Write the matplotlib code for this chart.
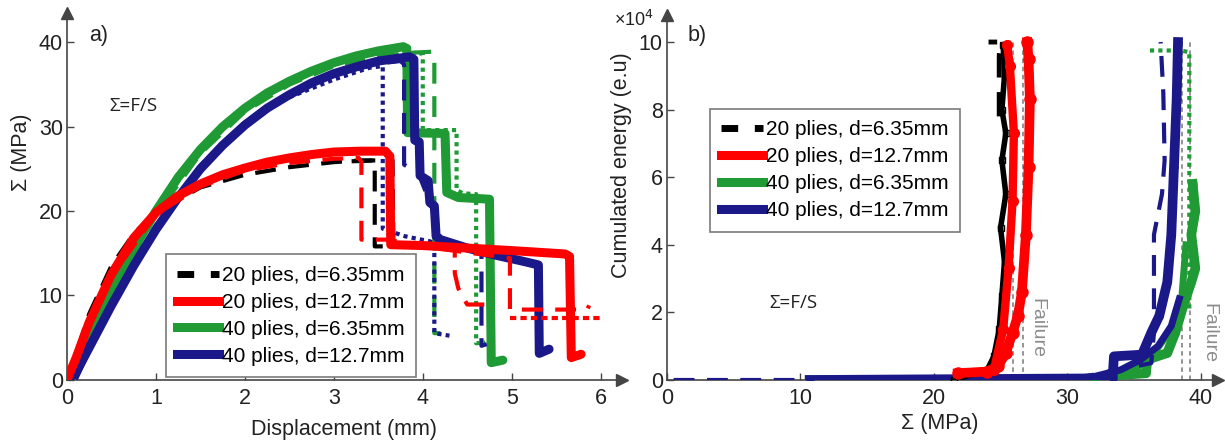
import matplotlib.pyplot as plt
from matplotlib.lines import Line2D

plt.rcParams['font.family'] = ['Liberation Sans', 'DejaVu Sans']

RED = '#ff0000'
GREEN = '#1f9a35'
BLUE = '#1b1889'
BLACK = '#000000'
GREY = '#8c8c8c'
AXC = '#454545'

labels = ['20 plies, d=6.35mm', '20 plies, d=12.7mm',
          '40 plies, d=6.35mm', '40 plies, d=12.7mm']

# ---------- a) stress vs displacement ----------
# 20 plies, d=6.35mm
d_k1 = [0, 0.1, 0.25, 0.5, 0.75, 1.0, 1.5, 2.0, 2.5, 3.0, 3.3, 3.66, 3.67]
s_k1 = [0, 3.0, 7.8, 13.5, 17.3, 19.9, 22.8, 24.3, 25.2, 25.8, 26.0, 26.0, 14.8]
d_k2 = [3.2, 3.46, 3.46, 3.55]
s_k2 = [25.9, 26.0, 15.8, 15.8]

# 20 plies, d=12.7mm
d_r1 = [0, 0.1, 0.25, 0.5, 0.75, 1.0, 1.25, 1.5, 1.75, 2.0, 2.25, 2.5, 2.75,
        3.0, 3.3, 3.58, 3.63, 3.64, 4.0, 4.5, 5.0, 5.6, 5.65, 5.67, 5.78]
s_r1 = [0, 2.5, 6.8, 12.5, 16.8, 19.8, 21.8, 23.2, 24.3, 25.1, 25.8, 26.3, 26.7,
        27.0, 27.1, 27.1, 26.5, 16.0, 15.9, 15.6, 15.3, 14.9, 14.6, 2.6, 3.0]
d_r2 = [0, 0.25, 0.5, 1.0, 1.5, 2.0, 2.5, 3.0, 3.28, 3.31, 3.31, 3.6, 4.0,
        4.36, 4.36, 4.4, 4.45, 4.5, 4.8]
s_r2 = [0, 6.5, 12.2, 19.6, 22.9, 24.8, 25.7, 26.2, 26.3, 25.8, 16.6, 16.6, 15.9,
        15.4, 12.6, 10.8, 9.8, 8.9, 8.9]
d_r3 = [4.2, 4.98, 4.98, 5.85, 5.87]
s_r3 = [15.5, 14.4, 8.3, 8.3, 8.8]
d_r4 = [4.98, 6.0]
s_r4 = [7.3, 7.3]

# 40 plies, d=6.35mm
d_g1 = [0, 0.1, 0.25, 0.5, 0.75, 1.0, 1.25, 1.5, 1.75, 2.0, 2.25, 2.5, 2.75,
        3.0, 3.25, 3.5, 3.78, 3.82, 3.83, 4.25, 4.27, 4.4, 4.75, 4.77, 4.9]
s_g1 = [0, 1.5, 5.0, 10.5, 15.5, 20.0, 24.0, 27.3, 30.0, 32.2, 34.0, 35.4, 36.6,
        37.6, 38.4, 39.0, 39.5, 39.3, 29.3, 29.2, 22.2, 21.6, 21.4, 2.0, 2.3]
d_g2 = [0.05, 0.25, 0.5, 1.0, 1.5, 2.0, 2.5, 3.0, 3.5, 3.9, 4.1, 4.13, 4.13, 4.2]
s_g2 = [0, 4.5, 10.0, 19.5, 26.8, 31.8, 35.0, 37.2, 38.4, 38.8, 38.9, 38.5, 5.5, 5.5]
d_g3 = [3.5, 3.95, 4.0, 4.0, 4.38, 4.38, 4.45, 4.6, 4.6, 4.7]
s_g3 = [38.3, 38.8, 38.6, 29.6, 29.6, 22.5, 22.1, 22.0, 4.3, 4.4]

# 40 plies, d=12.7mm
d_b1 = [0, 0.1, 0.25, 0.5, 0.75, 1.0, 1.25, 1.5, 1.75, 2.0, 2.25, 2.5, 2.75,
        3.0, 3.25, 3.5, 3.85, 3.9, 3.91, 3.96, 3.97, 4.06, 4.08, 4.13, 4.15,
        4.2, 4.5, 4.8, 5.1, 5.3, 5.31, 5.42]
s_b1 = [0, 0.8, 3.8, 8.8, 13.5, 17.8, 21.6, 25.0, 27.8, 30.2, 32.2, 33.8, 35.2,
        36.3, 37.1, 37.8, 38.3, 38.0, 28.4, 28.2, 24.2, 23.6, 21.0, 20.6, 17.0,
        16.6, 15.6, 14.8, 14.1, 13.6, 3.1, 3.6]
d_b2 = [0.1, 0.5, 1.0, 1.5, 2.0, 2.5, 3.0, 3.5, 3.75, 3.79, 3.79, 3.95, 4.1,
        4.2, 4.66, 4.66, 4.72]
s_b2 = [0, 9.2, 18.3, 25.4, 30.5, 33.9, 36.2, 37.5, 37.8, 37.4, 25.5, 24.5, 20.5,
        16.6, 15.0, 4.0, 4.2]
d_b3 = [2.5, 3.0, 3.4, 3.55, 3.55, 3.8, 4.08, 4.13, 4.13, 4.3]
s_b3 = [33.5, 35.6, 37.0, 37.2, 17.9, 17.0, 16.4, 16.2, 5.5, 5.2]

# ---------- b) cumulated energy (x1e4 e.u.) vs stress ----------
sig_k1 = [21.5, 24.0, 24.5, 24.9, 25.1, 25.3, 25.0, 25.4, 25.1, 25.4, 25.1, 25.3, 25.2]
en_k1 = [0.0, 0.3, 0.7, 1.5, 2.5, 3.5, 4.5, 5.5, 6.5, 7.3, 8.0, 9.0, 9.9]
sig_k2 = [24.9, 24.9, 25.0, 24.1]
en_k2 = [7.8, 9.6, 10.0, 10.0]

sig_r1 = [21.8, 24.0, 24.8, 25.4, 25.9, 26.3, 26.6, 26.9, 27.1, 27.2, 27.1, 27.0]
en_r1 = [0.2, 0.25, 0.4, 0.8, 1.4, 1.9, 2.6, 4.3, 6.3, 8.3, 9.5, 10.0]
sig_r2 = [24.5, 25.2, 25.6, 25.9, 26.0, 25.7, 25.5]
en_r2 = [0.3, 1.5, 3.3, 5.3, 7.3, 9.3, 9.9]

sig_g1 = [10.7, 32.0, 34.0, 35.9, 36.0, 37.5, 38.1, 38.7, 39.3, 39.6, 39.3, 39.6, 39.4]
en_g1 = [0, 0, 0.15, 0.2, 0.6, 0.8, 1.4, 2.2, 2.9, 3.3, 4.3, 5.0, 5.8]
sig_g2 = [33.0, 35.0, 36.5, 37.8, 38.6, 38.9]
en_g2 = [0.0, 0.3, 0.8, 1.5, 2.5, 4.0]
sig_g3 = [36.2, 38.5, 39.15, 39.15]
en_g3 = [9.75, 9.75, 9.7, 2.0]

sig_b1 = [10.7, 33.4, 33.5, 35.6, 36.3, 36.9, 37.5, 37.8, 38.0, 38.2, 38.3]
en_b1 = [0, 0.05, 0.7, 0.75, 1.4, 1.9, 2.9, 4.3, 6.3, 8.3, 10.0]
sig_b2 = [29.0, 32.0, 34.0, 35.5, 36.8, 37.8, 38.4]
en_b2 = [0, 0.1, 0.3, 0.6, 1.0, 1.6, 2.4]
sig_b3 = [0.5, 10.5, 30.0, 36.3, 36.5, 36.5, 37.1, 37.3, 37.2, 37.0]
en_b3 = [0, 0, 0, 0.5, 1.4, 4.3, 5.5, 6.5, 8.5, 10.0]

fail_sig = [25.9, 26.7, 38.6, 39.2]


W, H = 1225, 441
fig = plt.figure(figsize=(W / 100, H / 100), dpi=100)


def px_axes(x0, y0, x1, y1):
    # axes from pixel box (left, top, right, bottom)
    return fig.add_axes([x0 / W, 1 - y1 / H, (x1 - x0) / W, (y1 - y0) / H])


def style_axes(ax):
    for s in ['top', 'right']:
        ax.spines[s].set_visible(False)
    for s in ['left', 'bottom']:
        ax.spines[s].set_color(AXC)
        ax.spines[s].set_linewidth(1.2)
    ax.tick_params(direction='in', length=5, width=1, colors=AXC,
                   labelcolor='#222222', labelsize=15.5)
    ax.tick_params(axis='x', pad=6)
    ax.tick_params(axis='y', pad=3)
    ax.plot(1, 0, '>', color=AXC, ms=9, transform=ax.transAxes, clip_on=False)
    ax.plot(0, 1, '^', color=AXC, ms=9, transform=ax.transAxes, clip_on=False)
    ax.patch.set_alpha(0)


def add_legend(ax, x0, y0):
    handles = [Line2D([], [], color=BLACK, lw=5, dashes=(2.4, 2.4)),
               Line2D([], [], color=RED, lw=6.5),
               Line2D([], [], color=GREEN, lw=6.5),
               Line2D([], [], color=BLUE, lw=6.5)]
    leg = ax.legend(handles, labels, loc='upper left',
                    bbox_to_anchor=(x0 / W, 1 - y0 / H),
                    bbox_transform=fig.transFigure, borderaxespad=0,
                    fontsize=15, handlelength=2.0, handletextpad=0.15,
                    labelspacing=0.38, borderpad=0.55, fancybox=False,
                    framealpha=1, edgecolor='#7a7a7a')
    leg.get_frame().set_linewidth(1.2)
    leg.set_zorder(20)


# a)
ax1 = px_axes(67, 13, 622, 379.5)
style_axes(ax1)
ax1.set_xlim(0, 6.24)
ax1.set_ylim(0, 43.5)
ax1.set_xticks(range(7))
ax1.set_yticks([0, 10, 20, 30, 40])

ax1.plot(d_g1, s_g1, color=GREEN, lw=6.5, zorder=3, solid_capstyle='round')
ax1.plot(d_g2, s_g2, color=GREEN, lw=3, ls=(0, (5, 3)), zorder=3)
ax1.plot(d_g3, s_g3, color=GREEN, lw=3, ls=(0, (1, 1)), zorder=3)
ax1.plot(d_b1, s_b1, color=BLUE, lw=6.5, zorder=4, solid_capstyle='round')
ax1.plot(d_b2, s_b2, color=BLUE, lw=3, ls=(0, (5, 3)), zorder=4)
ax1.plot(d_b3, s_b3, color=BLUE, lw=3, ls=(0, (1, 1)), zorder=4)
ax1.plot(d_k1, s_k1, color=BLACK, lw=3, ls=(0, (5, 3)), zorder=5)
ax1.plot(d_k2, s_k2, color=BLACK, lw=3, ls=(0, (5, 3)), zorder=5)
ax1.plot(d_r1, s_r1, color=RED, lw=6.5, zorder=6, solid_capstyle='round')
ax1.plot(d_r2, s_r2, color=RED, lw=3, ls=(0, (5, 3)), zorder=6)
ax1.plot(d_r3, s_r3, color=RED, lw=3, ls=(0, (5, 3)), zorder=6)
ax1.plot(d_r4, s_r4, color=RED, lw=3, ls=(0, (1.5, 1)), zorder=6)

ax1.text(0.35, 40.8, 'a)', fontsize=15.5, ha='center', va='center', color='#222222')
ax1.text(0.75, 32.5, 'Σ=F/S', fontsize=13.5, ha='center', va='center',
         family=['Open Sans', 'DejaVu Sans'], color='#222222')
add_legend(ax1, 166, 254.5)

# b)
ax2 = px_axes(667, 15, 1218, 380)
style_axes(ax2)
ax2.set_xlim(0, 41.3)
ax2.set_ylim(0, 10.8)
ax2.set_xticks([0, 10, 20, 30, 40])
ax2.set_yticks([0, 2, 4, 6, 8, 10])

for xf in fail_sig:
    ax2.plot([xf, xf], [0, 10], color=GREY, lw=1.3, ls=(0, (2.5, 2)), zorder=2)

ax2.plot(sig_g1, en_g1, color=GREEN, lw=7, marker='o', ms=5, zorder=3)
ax2.plot(sig_g2, en_g2, color=GREEN, lw=5, zorder=3)
ax2.plot(sig_g3, en_g3, color=GREEN, lw=3, ls=(0, (1, 1)), zorder=3)
ax2.plot(sig_b1, en_b1, color=BLUE, lw=7, marker='o', ms=5, zorder=4)
ax2.plot(sig_b2, en_b2, color=BLUE, lw=5, zorder=4)
ax2.plot(sig_b3, en_b3, color=BLUE, lw=3, ls=(0, (5, 3)), zorder=4)
ax2.plot(sig_k1, en_k1, color=BLACK, lw=4, marker='s', ms=5, mfc='none', zorder=5)
ax2.plot(sig_k2, en_k2, color=BLACK, lw=3.5, ls=(0, (5, 3)), zorder=5)
ax2.plot(sig_r2, en_r2, color=RED, lw=6, marker='o', ms=7, zorder=6)
ax2.plot(sig_r1, en_r1, color=RED, lw=7, marker='o', ms=8, zorder=6)

ax2.text(2.25, 10.2, 'b)', fontsize=15.5, ha='center', va='center', color='#222222')
ax2.text(9.5, 2.27, 'Σ=F/S', fontsize=13.5, ha='center', va='center',
         family=['Open Sans', 'DejaVu Sans'], color='#222222')
ax2.text(27.7, 1.54, 'Failure', rotation=-90, fontsize=14, color=GREY,
         ha='center', va='center')
ax2.text(40.6, 1.39, 'Failure', rotation=-90, fontsize=14, color=GREY,
         ha='center', va='center', clip_on=False)
add_legend(ax2, 710, 109)

# axis labels
fig.text(21 / W, 1 - 152 / H, 'Σ (MPa)', rotation=90, fontsize=15.5,
         ha='center', va='center', color='#222222')
fig.text(344 / W, 1 - 430 / H, 'Displacement (mm)', fontsize=15.5,
         ha='center', va='center', color='#222222')
fig.text(621 / W, 1 - 165 / H, 'Cumulated energy (e.u)', rotation=90,
         fontsize=15.5, ha='center', va='center', color='#222222')
fig.text(940 / W, 1 - 424 / H, 'Σ (MPa)', fontsize=15.5,
         ha='center', va='center', color='#222222')
fig.text(634 / W, 1 - 20 / H, '×10$^4$', fontsize=13,
         ha='center', va='center', color='#222222')

fig.savefig('out.png', dpi=100)
